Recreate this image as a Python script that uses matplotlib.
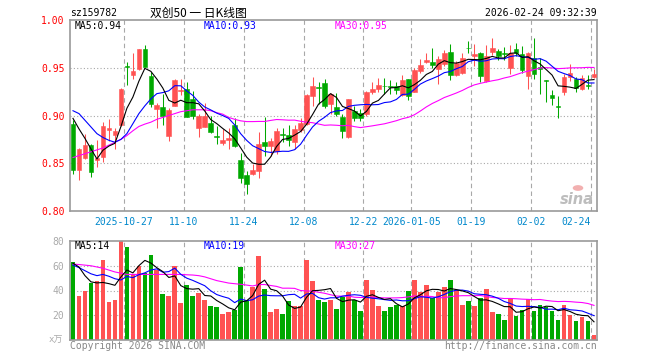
import numpy as np
import pandas as pd
import matplotlib
matplotlib.use("Agg")
import matplotlib.pyplot as plt
from matplotlib.patches import Circle

plt.rcParams['font.family'] = ['DejaVu Sans Mono', 'Noto Sans CJK SC']

# ---- data ----
date_labels = ["2025-10-27", "11-10", "11-24", "12-08", "12-22", "2026-01-05", "01-19", "02-02", "02-24"]
date_pos = [9, 19, 29, 39, 49, 57, 67, 77, 87]

opens = [0.891, 0.8434, 0.856, 0.869, 0.8535, 0.857, 0.885, 0.8799, 0.8899, 0.952,
         0.942, 0.949, 0.970, 0.9413, 0.9066, 0.909, 0.8788, 0.91, 0.926, 0.9274,
         0.9177, 0.8865, 0.8875, 0.892, 0.8781, 0.8712, 0.8747, 0.89, 0.8535, 0.8382,
         0.8389, 0.8424, 0.8719, 0.8677, 0.8625, 0.8806, 0.8795, 0.8726, 0.8851, 0.891,
         0.9205, 0.9295, 0.9337, 0.9118, 0.9094, 0.8986, 0.8778, 0.9049, 0.9024, 0.9014,
         0.925, 0.9274, 0.931, 0.931, 0.931, 0.9215, 0.9378, 0.925, 0.9465, 0.9559,
         0.9562, 0.9483, 0.9535, 0.9667, 0.9424, 0.9441, 0.9712, 0.962, 0.965, 0.936,
         0.966, 0.9677, 0.9656, 0.950, 0.9698, 0.9639, 0.9413, 0.9604, 0.9505, 0.937,
         0.9212, 0.9097, 0.9247, 0.9406, 0.9385, 0.9281, 0.9318, 0.9406]
highs = [0.895, 0.8656, 0.8806, 0.870, 0.874, 0.8927, 0.896, 0.8865, 0.929, 0.956,
         0.9656, 0.970, 0.974, 0.9458, 0.9135, 0.922, 0.9083, 0.9378, 0.9385, 0.9354,
         0.9257, 0.9014, 0.9135, 0.8997, 0.8885, 0.8858, 0.8865, 0.8972, 0.8608, 0.8424,
         0.8493, 0.883, 0.8986, 0.876, 0.8865, 0.8865, 0.890, 0.890, 0.8969, 0.9222,
         0.9403, 0.935, 0.9385, 0.9233, 0.9233, 0.9014, 0.9177, 0.910, 0.9066, 0.9257,
         0.9354, 0.9396, 0.9396, 0.9368, 0.9354, 0.942, 0.9385, 0.950, 0.9587, 0.9656,
         0.9708, 0.962, 0.969, 0.9753, 0.957, 0.9656, 0.978, 0.975, 0.966, 0.9736,
         0.981, 0.970, 0.972, 0.9743, 0.976, 0.9726, 0.967, 0.981, 0.9604, 0.937,
         0.9264, 0.9205, 0.943, 0.9535, 0.9406, 0.942, 0.942, 0.9483]
lows = [0.839, 0.832, 0.8545, 0.836, 0.846, 0.8517, 0.8736, 0.865, 0.8885, 0.932,
        0.938, 0.948, 0.9507, 0.909, 0.8865, 0.890, 0.8736, 0.910, 0.921, 0.898,
        0.896, 0.8778, 0.8875, 0.8813, 0.870, 0.869, 0.865, 0.8667, 0.8295, 0.8174,
        0.8372, 0.8344, 0.858, 0.858, 0.8597, 0.8719, 0.8684, 0.865, 0.8823, 0.890,
        0.910, 0.9118, 0.9083, 0.9014, 0.900, 0.8764, 0.8764, 0.8944, 0.8944, 0.900,
        0.9222, 0.9247, 0.9222, 0.9222, 0.9226, 0.9205, 0.916, 0.925, 0.9448, 0.9552,
        0.950, 0.9326, 0.952, 0.937, 0.9413, 0.9437, 0.9656, 0.952, 0.935, 0.935,
        0.963, 0.958, 0.958, 0.943, 0.962, 0.9448, 0.928, 0.938, 0.9222, 0.9142,
        0.911, 0.8969, 0.9212, 0.9361, 0.9247, 0.9267, 0.9274, 0.9396]
closes = [0.843, 0.865, 0.869, 0.8406, 0.855, 0.8885, 0.887, 0.8833, 0.9281, 0.951,
          0.947, 0.970, 0.9507, 0.9125, 0.9108, 0.8997, 0.9056, 0.9368, 0.927, 0.898,
          0.8997, 0.8997, 0.899, 0.8823, 0.877, 0.8743, 0.876, 0.8684, 0.835, 0.8285,
          0.8431, 0.8698, 0.8684, 0.873, 0.8837, 0.8799, 0.8747, 0.8858, 0.892, 0.9215,
          0.931, 0.929, 0.910, 0.923, 0.9014, 0.884, 0.9177, 0.8972, 0.8976, 0.925,
          0.9274, 0.9316, 0.9305, 0.9302, 0.9267, 0.9368, 0.9205, 0.9472, 0.9528, 0.9576,
          0.9524, 0.9587, 0.9656, 0.9424, 0.9552, 0.9604, 0.9705, 0.9645, 0.941, 0.9625,
          0.971, 0.9625, 0.964, 0.9656, 0.965, 0.9472, 0.9656, 0.943, 0.949, 0.936,
          0.918, 0.9093, 0.9403, 0.9448, 0.9292, 0.9396, 0.9313, 0.9431]
volumes = [62.9, 35.2, 39.2, 46.0, 47.3, 64.8, 30.4, 32.5, 79.6, 75.5,
           53.2, 59.4, 54.0, 68.8, 56.7, 37.4, 35.8, 60.2, 29.6, 44.6,
           35.2, 37.9, 32.5, 27.7, 26.3, 21.2, 22.3, 24.5, 58.6, 31.7,
           42.5, 67.5, 41.4, 22.3, 25.3, 21.2, 31.2, 27.7, 27.7, 64.8,
           47.8, 32.5, 30.4, 32.5, 25.3, 34.4, 38.4, 32.0, 23.1, 48.7,
           40.6, 27.7, 23.7, 26.3, 28.5, 27.7, 39.2, 48.7, 38.4, 44.6,
           33.9, 38.4, 42.5, 48.5, 40.6, 28.5, 31.2, 27.2, 33.9, 41.4,
           22.3, 21.2, 16.4, 33.1, 19.1, 24.5, 33.3, 23.7, 28.5, 26.6,
           23.1, 16.4, 28.5, 20.5, 15.5, 18.5, 15.0, 4.0]

# moving average values before enough history is on screen
ma5_head = [0.897, 0.886, 0.876, 0.865]
ma10_head = [0.905, 0.902, 0.895, 0.888, 0.881, 0.877, 0.874, 0.872, 0.875]
ma30_head = [0.856, 0.858, 0.860, 0.862, 0.864, 0.866, 0.869, 0.872, 0.875, 0.879,
             0.884, 0.8885, 0.891, 0.893, 0.896, 0.898, 0.900, 0.902, 0.904, 0.905,
             0.906, 0.906, 0.906, 0.905, 0.903, 0.9014, 0.898, 0.896, 0.8944]
vma5_head = [62.0, 59.0, 52.0, 47.0]
vma10_head = [60.5, 58.5, 56.0, 53.5, 52.0, 53.0, 51.5, 49.5, 48.5]
vma30_head = [61.3, 61.0, 60.5, 60.0, 59.0, 58.0, 56.5, 55.0, 54.0, 53.0,
              53.0, 53.0, 53.0, 53.0, 53.0, 53.0, 53.0, 53.0, 53.0, 52.7,
              52.5, 52.0, 51.0, 49.5, 48.0, 47.0, 46.0, 45.5, 45.0]


def moving(vals, n, head):
    m = pd.Series(vals).rolling(n).mean().to_numpy()
    m[:n - 1] = head
    return m


ma5 = moving(closes, 5, ma5_head)
ma10 = moving(closes, 10, ma10_head)
ma30 = moving(closes, 30, ma30_head)
vma5 = moving(volumes, 5, vma5_head)
vma10 = moving(volumes, 10, vma10_head)
vma30 = moving(volumes, 30, vma30_head)

RED = '#ff5252'
GREEN = '#00a800'
GRID = '#a8a8a8'
n = len(closes)
x = np.arange(n) + 0.5
o = np.array(opens); c = np.array(closes)
colors = [RED if cc >= oo else GREEN for oo, cc in zip(o, c)]

W, H = 660, 360
fig = plt.figure(figsize=(6.6, 3.6), dpi=100)
ax = fig.add_axes([70 / W, 1 - 211 / H, 527 / W, 191 / H])
axv = fig.add_axes([70 / W, 1 - 340 / H, 527 / W, 99 / H])

# ---- price panel ----
for yv in [0.85, 0.90, 0.95]:
    ax.axhline(yv, color=GRID, lw=0.8, ls=(0, (1, 2)), zorder=0)
for p in date_pos:
    ax.axvline(p, color=GRID, lw=0.8, ls=(0, (4, 3)), zorder=0)
    axv.axvline(p, color=GRID, lw=0.8, ls=(0, (4, 3)), zorder=0)

ax.vlines(x, lows, highs, colors=colors, lw=0.75, zorder=2)
body_lo = np.minimum(o, c)
body_h = np.maximum(np.abs(c - o), 0.0004)
ax.bar(x, body_h, bottom=body_lo, width=0.78, color=colors, edgecolor=colors, lw=0.4, zorder=3)

ax.plot(x, ma30, color='#ff00ff', lw=0.8, zorder=4)
ax.plot(x, ma10, color='#0000ff', lw=0.8, zorder=4)
ax.plot(x, ma5, color='#000000', lw=0.8, zorder=5)

ax.set_xlim(0, n)
ax.set_ylim(0.80, 1.00)
ax.set_yticks([0.80, 0.85, 0.90, 0.95, 1.00])
ax.set_yticklabels(["0.80", "0.85", "0.90", "0.95", "1.00"], color='#ff0000', fontsize=7)
ax.set_xticks([])
ax.tick_params(axis='y', length=0, pad=4)
for lbl, p in zip(date_labels, date_pos):
    ha = 'right' if p == date_pos[-1] else 'center'
    ax.text(p - (0.05 if ha == 'right' else 0), -0.058, lbl, transform=ax.get_xaxis_transform(),
            ha=ha, va='center', color='#0088cc', fontsize=7)

# ---- volume panel ----
for yv in [20, 40, 60]:
    axv.axhline(yv, color=GRID, lw=0.8, ls=(0, (1, 2)), zorder=0)
axv.bar(x, volumes, width=0.78, color=colors, lw=0, zorder=2)
axv.plot(x, vma30, color='#ff00ff', lw=0.8, zorder=4)
axv.plot(x, vma10, color='#0000ff', lw=0.8, zorder=4)
axv.plot(x, vma5, color='#000000', lw=0.8, zorder=5)
axv.set_xlim(0, n)
axv.set_ylim(0, 80)
axv.set_yticks([20, 40, 60, 80])
axv.set_yticklabels(["20", "40", "60", "80"], color='#aaaaaa', fontsize=7)
axv.set_xticks([])
axv.tick_params(axis='y', length=0, pad=4)

for a in (ax, axv):
    for s in a.spines.values():
        s.set_color('#999999')
        s.set_linewidth(1.2)

# ---- texts ----
def fx(px):
    return px / W


def fy(py):
    return 1 - py / H


fig.text(fx(70), fy(13), "sz159782", fontsize=7, ha='left', va='center')
fig.text(fx(150), fy(13), "双创50 一 日K线图", fontsize=8.5, ha='left', va='center',
         family=['Noto Sans CJK SC', 'DejaVu Sans'])
fig.text(fx(597), fy(13), "2026-02-24 09:32:39", fontsize=7, ha='right', va='center')

fig.text(fx(75), fy(26), "MA5:%.2f" % ma5[-1], fontsize=7, color='#000000', va='center')
fig.text(fx(204), fy(26), "MA10:%.2f" % ma10[-1], fontsize=7, color='#0000ff', va='center')
fig.text(fx(335), fy(26), "MA30:%.2f" % ma30[-1], fontsize=7, color='#ff00ff', va='center')

fig.text(fx(75), fy(246), "MA5:%d" % int(vma5[-1]), fontsize=7, color='#000000', va='center')
fig.text(fx(204), fy(246), "MA10:%d" % int(vma10[-1]), fontsize=7, color='#0000ff', va='center')
fig.text(fx(335), fy(246), "MA30:%d" % int(vma30[-1]), fontsize=7, color='#ff00ff', va='center')

fig.text(fx(63), fy(340), "x万", fontsize=6.5, color='#aaaaaa', ha='right', va='center',
         family=['DejaVu Sans Mono', 'Noto Sans CJK SC'])
fig.text(fx(70), fy(346), "Copyright 2026 SINA.COM", fontsize=7, color='#888888', va='center')
fig.text(fx(597), fy(346), "http://finance.sina.com.cn", fontsize=7, color='#888888',
         ha='right', va='center')

# sina watermark
fig.text(fx(594), fy(200), "sina", fontsize=10.5, color='#bdbdbd', style='italic',
         weight='bold', ha='right', va='center', family='DejaVu Sans')
fig.patches.append(Circle((fx(578), fy(188)), 0.008, transform=fig.transFigure,
                          facecolor='#f2b0b0', edgecolor='none'))

fig.savefig("out.png", dpi=100)
